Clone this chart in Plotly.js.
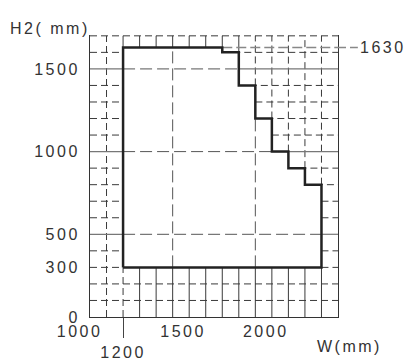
<!DOCTYPE html>
<html><head><meta charset="utf-8">
<script src="https://cdn.plot.ly/plotly-3.0.1.min.js"></script>
<style>
html,body{margin:0;padding:0;background:#fff;}
#chart{width:406px;height:358px;}
.xtick text,.ytick text,.annotation-text{letter-spacing:2.5px;}
</style></head><body><div id="chart"></div>
<script>
// envelope data: step edges (W) and heights on each step (H2)
const stepW = [1200, 1800, 1900, 2000, 2100, 2200, 2300, 2400];
const stepH = [1630, 1600, 1400, 1200, 1000, 900, 800];
const baseH = 300;
const markH = 1630;
const xRange = [1000, 2500];
const yRange = [0, 1700];
const minorStep = 100;
const majorStep = 500;
const yTickVals = [0, 300, 500, 1000, 1500];
const yTickText = ['0', '300', '500', '1000', '1500'];
const xTickVals = [1000, 1200, 1500, 2000];
const xTickText = ['1000', '1200', '1500', '2000'];
const xLabel = 'W(mm)';
const yLabel = 'H2( mm)';

const nSteps = stepH.length;
function envTop(x) {
  let t = null;
  for (let i = 0; i < nSteps; i++) {
    if (x >= stepW[i] && x <= stepW[i + 1]) t = (t === null) ? stepH[i] : Math.max(t, stepH[i]);
  }
  return t;
}
function rightEdge(y) {
  let e = stepW[0];
  for (let i = 0; i < nSteps; i++) if (stepH[i] > y) e = Math.max(e, stepW[i + 1]);
  return e;
}
function seg(o, x0, y0, x1, y1) { o.x.push(x0, x1, null); o.y.push(y0, y1, null); }

const solid = {x: [], y: []}, dashed = {x: [], y: []}, major = {x: [], y: []}, majorOut = {x: [], y: []};

for (let x = xRange[0] + minorStep; x < xRange[1]; x += minorStep) {
  if (x < stepW[0] || x > stepW[nSteps]) {
    seg(dashed, x, yRange[0], x, yRange[1]);
  } else {
    const t = envTop(x);
    seg(x === stepW[0] ? dashed : solid, x, yRange[0], x, baseH);
    seg(t >= 1600 ? solid : dashed, x, t, x, yRange[1]);
    if (x % majorStep === 0) seg(major, x, baseH, x, t);
  }
}
for (let y = minorStep; y < yRange[1]; y += minorStep) {
  if (y < baseH) {
    seg(dashed, xRange[0], y, xRange[1], y);
  } else {
    const e = rightEdge(y);
    const tgt = (y % majorStep === 0) ? majorOut : dashed;
    seg(tgt, xRange[0], y, stepW[0], y);
    seg(tgt, e, y, xRange[1], y);
    if (y % majorStep === 0) seg(major, stepW[0], y, e, y);
  }
}
seg(dashed, xRange[0], yRange[1], xRange[1], yRange[1]);

// envelope outline
const envX = [stepW[0]], envY = [baseH];
for (let i = 0; i < nSteps; i++) { envX.push(stepW[i], stepW[i + 1]); envY.push(stepH[i], stepH[i]); }
envX.push(stepW[nSteps], stepW[0]); envY.push(baseH, baseH);

// mark line at 1630
let markStart = stepW[0];
for (let i = 0; i < nSteps; i++) if (stepH[i] >= markH) markStart = stepW[i + 1];

// staggered / offset display of the x tick labels (as in the drawing)
const sp = '&nbsp;&nbsp;&nbsp;';
const xTickShown = xTickText.map((t, i) => {
  const v = xTickVals[i];
  if (v === stepW[0]) return '<br>' + t;
  if (v === xRange[0]) return t + sp;
  return sp + t;
});

const traces = [
  {x: dashed.x, y: dashed.y, mode: 'lines', line: {color: '#3a3a3a', width: 1, dash: '7px,4px'}, hoverinfo: 'skip'},
  {x: solid.x, y: solid.y, mode: 'lines', line: {color: '#3a3a3a', width: 1}, hoverinfo: 'skip'},
  {x: majorOut.x, y: majorOut.y, mode: 'lines', line: {color: '#777', width: 1.2}, hoverinfo: 'skip'},
  {x: major.x, y: major.y, mode: 'lines', line: {color: '#555', width: 1, dash: '12px,5px'}, hoverinfo: 'skip'},
  {x: [markStart, xRange[1]], y: [markH, markH], mode: 'lines', line: {color: '#888', width: 1.5, dash: '10px,4px'}, hoverinfo: 'skip'},
  {x: envX, y: envY, mode: 'lines', line: {color: '#222', width: 2.5}, hoverinfo: 'skip'},
  {x: [stepW[0]], y: [0], xaxis: 'x2', mode: 'markers', marker: {opacity: 0}, hoverinfo: 'skip'}
];

const font = {family: 'Liberation Sans, Arial, sans-serif', size: 16, color: '#333'};
const layout = {
  width: 406, height: 358, autosize: false,
  margin: {l: 90, r: 68, t: 35, b: 41},
  paper_bgcolor: '#fff', plot_bgcolor: '#fff',
  showlegend: false, font: font,
  xaxis: {range: xRange, showgrid: false, zeroline: false, showline: true, linecolor: '#333', linewidth: 1,
    tickmode: 'array', tickvals: xTickVals, ticktext: xTickShown, ticks: '', tickangle: 0, ticklabelstandoff: 0, tickfont: font, fixedrange: true},
  xaxis2: {range: xRange, overlaying: 'x', showgrid: false, zeroline: false, showline: false,
    tickmode: 'array', tickvals: [stepW[0]], ticks: 'outside', ticklen: 20, tickcolor: '#444', tickwidth: 1, showticklabels: false},
  yaxis: {range: [yRange[0], yRange[1] + 5], showgrid: false, zeroline: false, showline: true, mirror: true, linecolor: '#333', linewidth: 1,
    tickmode: 'array', tickvals: yTickVals, ticktext: yTickText, ticks: '', ticklabelstandoff: 6, tickfont: font, fixedrange: true},
  shapes: [
    {type: 'line', xref: 'paper', x0: 1, x1: 1.08, yref: 'y', y0: markH, y1: markH, line: {color: '#888', width: 1.5, dash: '8px,4px'}}
  ],
  annotations: [
    {text: yLabel, xref: 'x', x: xRange[0], xanchor: 'right', yref: 'y', y: yRange[1], yanchor: 'bottom', showarrow: false, font: font, xshift: 2, yshift: -3},
    {text: xLabel, xref: 'x', x: 2360, xanchor: 'left', yref: 'paper', y: 0, yanchor: 'top', showarrow: false, font: font, yshift: -19},
    {text: String(markH), xref: 'paper', x: 1, xanchor: 'left', yref: 'y', y: markH, yanchor: 'middle', showarrow: false, font: font, xshift: 20}
  ]
};
Plotly.newPlot('chart', traces, layout, {staticPlot: true, displayModeBar: false});
</script></body></html>
